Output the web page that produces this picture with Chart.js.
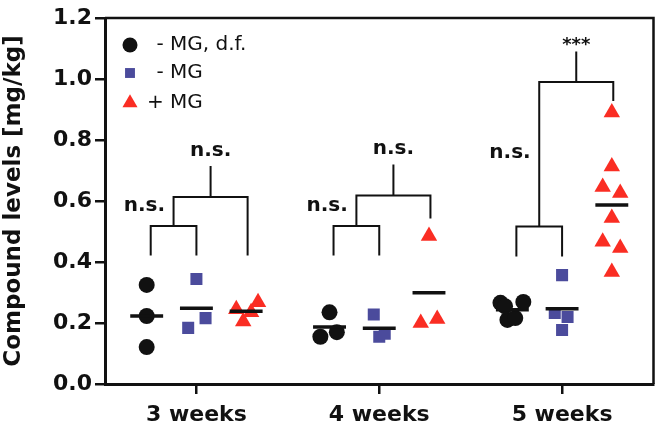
<!DOCTYPE html>
<html lang="en">
<head>
<meta charset="UTF-8">
<title>Compound levels</title>
<script src="https://cdn.jsdelivr.net/npm/chart.js"></script>
<style>
    html, body { margin: 0; padding: 0; background: #fff; }
    #wrap { width: 663px; height: 443px; position: relative; }
</style>
</head>
<body>
<div id="wrap"><canvas id="graphique"></canvas></div>
<script>
// categories, groups, ticks
const weeks = ['3 weeks', '4 weeks', '5 weeks'];
const groupNames = ['- MG, d.f.', '- MG', '+ MG'];
const yTicks = [0, 0.2, 0.4, 0.6, 0.8, 1.0, 1.2];

// compound levels [mg/kg], one list per week
const dfValues = [
    [0.325, 0.223, 0.121],
    [0.235, 0.155, 0.170],
    [0.266, 0.269, 0.210, 0.216, 0.255]
];
const noMgValues = [
    [0.344, 0.216, 0.184],
    [0.228, 0.155, 0.165],
    [0.357, 0.233, 0.220, 0.177]
];
const mgValues = [
    [0.245, 0.268, 0.205, 0.235],
    [0.200, 0.213, 0.485],
    [0.890, 0.713, 0.646, 0.626, 0.544, 0.466, 0.446, 0.367]
];

// little sideways spread of the dots inside a column (category units)
const dfJitter = [[0, 0, 0], [0, -0.05, 0.04], [-0.065, 0.06, -0.027, 0.016, -0.04]];
const noMgJitter = [[0, 0.05, -0.045], [-0.03, 0, 0.03], [0, -0.04, 0.03, 0]];
const mgJitter = [[-0.054, 0.065, -0.016, 0.027], [-0.045, 0.045, 0], [0, 0, -0.05, 0.046, 0, -0.05, 0.046, 0]];

// significance brackets, per week (y in mg/kg)
const bracketLow = [0.421, 0.421, 0.418];
const bracketPairTop = [0.518, 0.518, 0.516];
const bracketGroupTop = [0.613, 0.618, 0.990];
const bracketThirdEnd = [0.421, 0.543, 0.928];
const bracketStemTop = [0.715, 0.720, 1.090];
const pairLabels = ['n.s.', 'n.s.', 'n.s.'];
const pairLabelY = [0.567, 0.567, 0.742];
const groupLabels = ['n.s.', 'n.s.', '***'];
const groupLabelY = [0.748, 0.753, 1.095];

// layout of columns
const groupOffset = [-0.272, 0, 0.272];
const legX = [-0.25, 0, 0.28];
const meanHalf = 0.09;
const colors = ['#111111', '#4b4b9c', '#fa2d23'];
const styles = ['circle', 'rect', 'triangle'];
const radii = [8, 8.5, 9.5];

const allValues = [dfValues, noMgValues, mgValues];
const allJitter = [dfJitter, noMgJitter, mgJitter];

Chart.defaults.font.family = "'DejaVu Sans', sans-serif";
Chart.defaults.color = '#111';

const pointSets = allValues.map((vals, g) => {
    const pts = [];
    vals.forEach((list, w) => {
        list.forEach((v, k) => {
            pts.push({ x: w + groupOffset[g] + allJitter[g][w][k], y: v });
        });
    });
    return {
        type: 'scatter',
        label: groupNames[g],
        data: pts,
        pointStyle: styles[g],
        pointRadius: radii[g],
        pointBackgroundColor: colors[g],
        pointBorderColor: colors[g],
        pointBorderWidth: 0,
        order: 1
    };
});

const meanSets = allValues.map((vals, g) => {
    const pts = [];
    vals.forEach((list, w) => {
        const m = list.reduce((a, b) => a + b, 0) / list.length;
        const c = w + groupOffset[g];
        pts.push({ x: c - meanHalf, y: m }, { x: c + meanHalf, y: m }, { x: c + meanHalf, y: null });
    });
    return {
        type: 'scatter',
        label: 'mean ' + groupNames[g],
        data: pts,
        showLine: true,
        spanGaps: false,
        borderColor: '#111',
        borderWidth: 3.5,
        pointRadius: 0,
        order: 0
    };
});

const annotations = {
    id: 'annotations',
    afterDatasetsDraw(chart) {
        const { ctx, chartArea, scales: { x, y } } = chart;
        ctx.save();
        // frame on top and right
        ctx.strokeStyle = '#111';
        ctx.lineWidth = 2.5;
        ctx.beginPath();
        ctx.moveTo(chartArea.left, chartArea.top);
        ctx.lineTo(chartArea.right, chartArea.top);
        ctx.lineTo(chartArea.right, chartArea.bottom);
        ctx.stroke();

        // brackets
        ctx.lineWidth = 2;
        weeks.forEach((wk, i) => {
            const xa = x.getPixelForValue(i + legX[0]);
            const xb = x.getPixelForValue(i + legX[1]);
            const xc = x.getPixelForValue(i + legX[2]);
            const xm = (xa + xb) / 2;
            const xs = (xm + xc) / 2;
            ctx.beginPath();
            ctx.moveTo(xa, y.getPixelForValue(bracketLow[i]));
            ctx.lineTo(xa, y.getPixelForValue(bracketPairTop[i]));
            ctx.lineTo(xb, y.getPixelForValue(bracketPairTop[i]));
            ctx.lineTo(xb, y.getPixelForValue(bracketLow[i]));
            ctx.moveTo(xm, y.getPixelForValue(bracketPairTop[i]));
            ctx.lineTo(xm, y.getPixelForValue(bracketGroupTop[i]));
            ctx.lineTo(xc, y.getPixelForValue(bracketGroupTop[i]));
            ctx.lineTo(xc, y.getPixelForValue(bracketThirdEnd[i]));
            ctx.moveTo(xs, y.getPixelForValue(bracketGroupTop[i]));
            ctx.lineTo(xs, y.getPixelForValue(bracketStemTop[i]));
            ctx.stroke();

            ctx.fillStyle = '#111';
            ctx.textAlign = 'center';
            ctx.textBaseline = 'alphabetic';
            ctx.font = "bold 20px 'DejaVu Sans'";
            ctx.fillText(pairLabels[i], x.getPixelForValue(i - 0.285), y.getPixelForValue(pairLabelY[i]));
            ctx.font = groupLabels[i] === '***' ? "bold 18px 'DejaVu Sans'" : "bold 20px 'DejaVu Sans'";
            ctx.fillText(groupLabels[i], xs, y.getPixelForValue(groupLabelY[i]));
        });

        // legend in the upper left corner
        ctx.font = "20px 'DejaVu Sans'";
        ctx.textAlign = 'left';
        ctx.textBaseline = 'middle';
        const legY = [27, 55, 85];
        const mark = [7.5, 7, 8.7];
        groupNames.forEach((name, g) => {
            const px = chartArea.left + 25;
            const py = chartArea.top + legY[g];
            ctx.fillStyle = colors[g];
            ctx.strokeStyle = colors[g];
            Chart.helpers.drawPoint(ctx, { pointStyle: styles[g], radius: mark[g], rotation: 0, borderWidth: 0 }, px, py);
            ctx.fillStyle = '#111';
            const shift = ctx.measureText(name.slice(0, 2)).width;
            ctx.fillText(name, chartArea.left + 65 - shift, py);
        });
        ctx.restore();
    }
};

new Chart(document.getElementById('graphique'), {
    type: 'scatter',
    data: { datasets: [...meanSets, ...pointSets] },
    options: {
        responsive: true,
        maintainAspectRatio: false,
        animation: false,
        events: [],
        layout: { padding: { top: 18, right: 3, left: 0, bottom: 0 } },
        plugins: { legend: { display: false }, tooltip: { enabled: false } },
        scales: {
            x: {
                type: 'linear',
                min: -0.5,
                max: 2.5,
                afterBuildTicks: (axis) => { axis.ticks = weeks.map((_, i) => ({ value: i })); },
                afterFit: (scale) => { scale.height = 59; },
                ticks: {
                    autoSkip: false,
                    maxRotation: 0,
                    padding: 8,
                    color: '#111',
                    font: { size: 22, weight: 'bold' },
                    callback: (v) => weeks[v] ?? ''
                },
                grid: { drawOnChartArea: false, drawTicks: true, tickLength: 10, color: '#111', lineWidth: 2.5 },
                border: { display: true, color: '#111', width: 3 }
            },
            y: {
                min: 0,
                max: 1.2,
                afterBuildTicks: (axis) => { axis.ticks = yTicks.map(v => ({ value: v })); },
                afterFit: (scale) => { scale.width = 105; },
                ticks: {
                    padding: 3,
                    color: '#111',
                    font: { size: 22, weight: 'bold' },
                    callback: (v) => Number(v).toFixed(1)
                },
                grid: { drawOnChartArea: false, drawTicks: true, tickLength: 10, color: '#111', lineWidth: 2.5 },
                border: { display: true, color: '#111', width: 3 },
                title: {
                    display: true,
                    text: 'Compound levels [mg/kg]',
                    color: '#111',
                    font: { size: 23, weight: 'bold' },
                    padding: { top: 0, bottom: 0 }
                }
            }
        }
    },
    plugins: [annotations]
});
</script>
</body>
</html>
